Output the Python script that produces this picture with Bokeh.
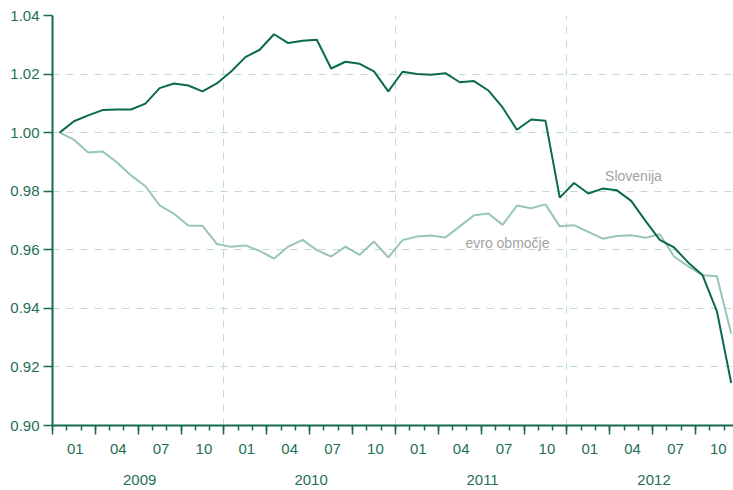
from bokeh.plotting import figure
from bokeh.models import (LinearAxis, FixedTicker, CustomJSTickFormatter, Range1d,
                          ColumnDataSource, Grid)
from bokeh.core.properties import value
from bokeh.embed import file_html
from bokeh.resources import INLINE

# ---- data -----------------------------------------------------------------
years = ["2009", "2010", "2011", "2012"]
month_labels = ["01", "04", "07", "10"]
y_ticks = [0.90, 0.92, 0.94, 0.96, 0.98, 1.00, 1.02, 1.04]

# monthly index, Jan 2009 .. Dec 2012
slovenija = [
    1.0000, 1.0039, 1.0059, 1.0077, 1.0079, 1.0079, 1.0099, 1.0152, 1.0168, 1.0161, 1.0141, 1.0168,
    1.0209, 1.0258, 1.0283, 1.0336, 1.0306, 1.0314, 1.0317, 1.0219, 1.0242, 1.0235, 1.0209, 1.0141,
    1.0208, 1.0200, 1.0198, 1.0203, 1.0172, 1.0176, 1.0144, 1.0086, 1.0010, 1.0045, 1.0041, 0.9778,
    0.9828, 0.9792, 0.9809, 0.9803, 0.9767, 0.9699, 0.9634, 0.9608, 0.9556, 0.9513, 0.9390, 0.9145,
]
evro_obmocje = [
    1.0000, 0.9976, 0.9932, 0.9936, 0.9899, 0.9854, 0.9817, 0.9752, 0.9723, 0.9683, 0.9682, 0.9620,
    0.9610, 0.9615, 0.9596, 0.9570, 0.9611, 0.9634, 0.9599, 0.9577, 0.9611, 0.9583, 0.9628, 0.9574,
    0.9633, 0.9645, 0.9649, 0.9642, 0.9680, 0.9718, 0.9724, 0.9685, 0.9751, 0.9742, 0.9755, 0.9680,
    0.9684, 0.9661, 0.9638, 0.9647, 0.9650, 0.9641, 0.9653, 0.9577, 0.9543, 0.9513, 0.9510, 0.9313,
]

n_months = len(slovenija)
x_pos = [i + 0.5 for i in range(n_months)]   # month centres
src = ColumnDataSource(dict(x=x_pos, slo=slovenija, evro=evro_obmocje))

# ---- styles ---------------------------------------------------------------
FONT = "Liberation Sans"
AXIS_COL = "#17694f"
LABEL_COL = "#1f6f55"
GRID_COL = "#bfdad0"
SLO_COL = "#0b6a4d"
EVRO_COL = "#98c5b5"
NOTE_COL = "#a2a2a2"

p = figure(width=733, height=490, output_backend="svg", toolbar_location=None,
           x_range=Range1d(0, 47.66), y_range=Range1d(0.90, 1.04),
           x_axis_location=None, y_axis_location=None,
           min_border_left=52, min_border_right=0, min_border_top=15, min_border_bottom=65)
p.outline_line_color = None
p.background_fill_color = "white"
p.border_fill_color = "white"
for g in p.grid:
    g.visible = False

# grids
p.add_layout(Grid(dimension=1, ticker=FixedTicker(ticks=[0.92, 0.94, 0.96, 0.98, 1.00, 1.02]),
                  grid_line_color=GRID_COL, grid_line_width=1, grid_line_dash="7 7"))
p.add_layout(Grid(dimension=0, ticker=FixedTicker(ticks=[12, 24, 36]),
                  grid_line_color=GRID_COL, grid_line_width=1, grid_line_dash="7 7"))

# y axis
yax = LinearAxis(ticker=FixedTicker(ticks=y_ticks),
                 formatter=CustomJSTickFormatter(code="return tick.toFixed(2);"))
yax.axis_line_color = AXIS_COL
yax.axis_line_width = 2
yax.major_tick_line_color = AXIS_COL
yax.major_tick_line_width = 1.5
yax.major_tick_out = 9
yax.major_tick_in = 0
yax.minor_tick_line_color = None
yax.major_label_standoff = 4
yax.major_label_text_font = FONT
yax.major_label_text_font_size = "15px"
yax.major_label_text_color = LABEL_COL
p.add_layout(yax, "left")

# x axis: tick marks only
xa = LinearAxis(ticker=FixedTicker(ticks=list(range(0, 48, 3)), minor_ticks=list(range(0, 48))),
                formatter=CustomJSTickFormatter(code="return '';"))
xa.axis_line_color = AXIS_COL
xa.axis_line_width = 2
xa.major_tick_line_color = AXIS_COL
xa.major_tick_line_width = 1.5
xa.minor_tick_line_color = AXIS_COL
xa.minor_tick_line_width = 1.5
xa.major_tick_out = 9
xa.major_tick_in = 0
xa.minor_tick_out = 5
xa.minor_tick_in = 0
xa.major_label_standoff = 0
xa.major_label_text_font_size = "0px"
p.add_layout(xa, "below")

# x axis: month labels
month_ticks = [k * 3 + 1.6 for k in range(16)]
xb = LinearAxis(ticker=FixedTicker(ticks=month_ticks, minor_ticks=[]),
                formatter=CustomJSTickFormatter(args=dict(labels=month_labels),
                    code="const k = Math.round((tick - 1.6) / 3); return labels[((k % 4) + 4) % 4];"))
xb.axis_line_color = None
xb.major_tick_line_color = None
xb.minor_tick_line_color = None
xb.major_tick_out = 0
xb.major_tick_in = 0
xb.minor_tick_out = 0
xb.major_label_standoff = 9
xb.major_label_text_font = FONT
xb.major_label_text_font_size = "15px"
xb.major_label_text_color = LABEL_COL
p.add_layout(xb, "below")

# x axis: year labels
year_ticks = [6.1 + 12 * k for k in range(len(years))]
xc = LinearAxis(ticker=FixedTicker(ticks=year_ticks, minor_ticks=[]),
                formatter=CustomJSTickFormatter(args=dict(labels=years),
                    code="return labels[Math.round((tick - 6.1) / 12)];"))
xc.axis_line_color = None
xc.major_tick_line_color = None
xc.minor_tick_line_color = None
xc.major_tick_out = 0
xc.major_tick_in = 0
xc.minor_tick_out = 0
xc.major_label_standoff = 18
xc.major_label_text_font = FONT
xc.major_label_text_font_size = "15px"
xc.major_label_text_color = LABEL_COL
p.add_layout(xc, "below")

# series
p.line("x", "evro", source=src, line_color=EVRO_COL, line_width=2)
p.line("x", "slo", source=src, line_color=SLO_COL, line_width=2)

# annotations
p.text(x=[40.66], y=[0.9853], text=["Slovenija"], text_font=value(FONT),
       text_font_size=value("14px"), text_color=NOTE_COL, text_align="center",
       text_baseline="middle")
p.text(x=[31.84], y=[0.9622], text=["evro območje"], text_font=value(FONT),
       text_font_size=value("14px"), text_color=NOTE_COL, text_align="center",
       text_baseline="middle")

open("out.html", "w").write(file_html(p, INLINE))
